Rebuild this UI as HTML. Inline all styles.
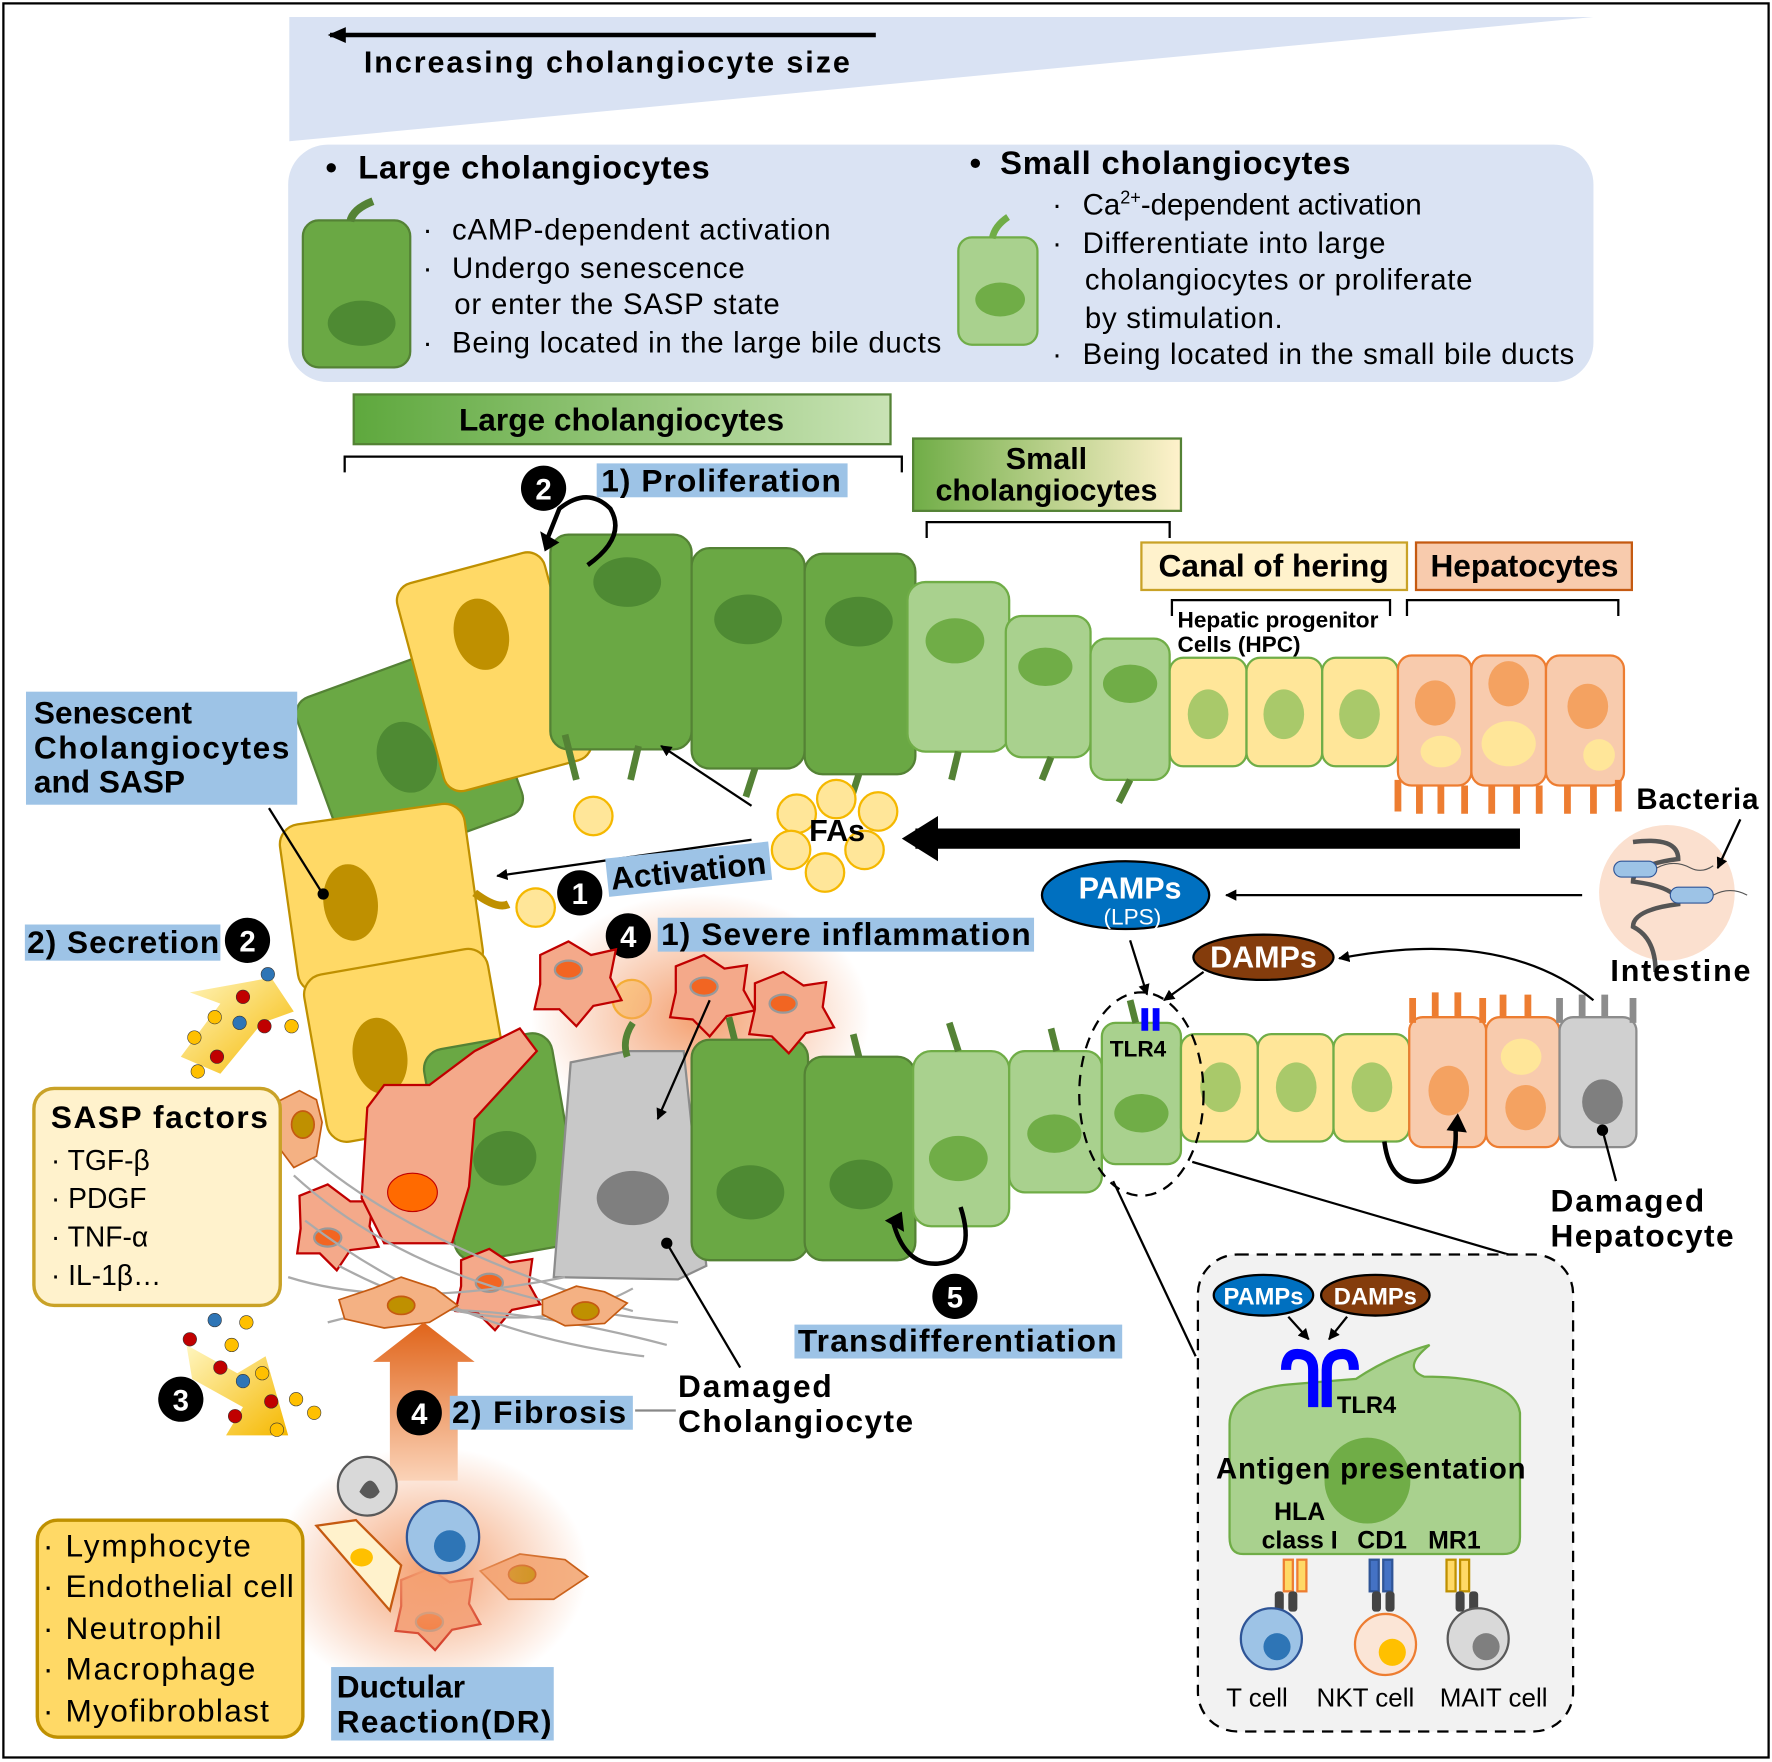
<!DOCTYPE html>
<html><head><meta charset="utf-8"><style>
html,body{margin:0;padding:0;background:#fff}
svg{display:block}
text{font-family:"Liberation Sans",Arial,sans-serif}
.b{font-weight:bold}
</style></head><body>
<svg width="1772" height="1762" viewBox="0 0 1568 1559" preserveAspectRatio="none" xmlns="http://www.w3.org/2000/svg">
<defs>
<linearGradient id="gL" x1="0" x2="1"><stop offset="0" stop-color="#5ea83d"/><stop offset="1" stop-color="#c9e3b5"/></linearGradient>
<linearGradient id="gS" x1="0" x2="1"><stop offset="0" stop-color="#70ad47"/><stop offset="1" stop-color="#fff2cc"/></linearGradient>
<radialGradient id="rg"><stop offset="0" stop-color="#f4a070"/><stop offset="1" stop-color="#f4a070" stop-opacity="0"/></radialGradient>
<linearGradient id="ya" x1="0" x2="1" y1="0" y2="1"><stop offset="0" stop-color="#fff6c0"/><stop offset="1" stop-color="#f5b800"/></linearGradient>
<linearGradient id="oa" x1="0" x2="0" y1="1" y2="0"><stop offset="0" stop-color="#fbd3b8"/><stop offset="1" stop-color="#e0641a"/></linearGradient>
<marker id="ah" markerWidth="10" markerHeight="10" refX="9" refY="5" orient="auto" markerUnits="userSpaceOnUse"><path d="M0,0 L10,5 L0,10 z" fill="#000"/></marker>
<marker id="ah2" markerWidth="16" markerHeight="14" refX="14" refY="7" orient="auto" markerUnits="userSpaceOnUse"><path d="M0,0 L16,7 L0,14 z" fill="#000"/></marker>
</defs>
<rect x="3" y="3" width="1562" height="1552" fill="#fff" stroke="#000" stroke-width="2"/>
<polygon points="256,15 1410,15 256,125" fill="#d9e2f3"/>
<line x1="775" y1="31" x2="292" y2="31" stroke="#000" stroke-width="4" marker-end="url(#ah2)"/>
<text x="322" y="64" class="b" font-size="27" textLength="430">Increasing cholangiocyte size</text>
<rect x="255" y="128" width="1155" height="210" rx="35" fill="#dae3f3"/>
<text x="288" y="158" class="b" font-size="29">•</text><text x="317" y="158" class="b" font-size="29" textLength="311">Large cholangiocytes</text>
<text x="858" y="154" class="b" font-size="29">•</text><text x="885" y="154" class="b" font-size="29" textLength="310">Small cholangiocytes</text>
<g font-size="26">
<text x="374" y="212">·</text><text x="400" y="212" textLength="335">cAMP-dependent activation</text>
<text x="374" y="246">·</text><text x="400" y="246" textLength="259">Undergo senescence</text>
<text x="402" y="278" textLength="288">or enter the SASP state</text>
<text x="374" y="312">·</text><text x="400" y="312" textLength="433">Being located in the large bile ducts</text>
<text x="931" y="190">·</text><text x="958" y="190">Ca<tspan font-size="16" dy="-10">2+</tspan><tspan dy="10">-dependent activation</tspan></text>
<text x="931" y="224">·</text><text x="958" y="224" textLength="268">Differentiate into large</text>
<text x="960" y="256" textLength="343">cholangiocytes or proliferate</text>
<text x="960" y="290" textLength="175">by stimulation.</text>
<text x="931" y="322">·</text><text x="958" y="322" textLength="435">Being located in the small bile ducts</text>
</g>
<rect x="268" y="195" width="95" height="130" rx="14" fill="#6aa844" stroke="#548235" stroke-width="2"/>
<path d="M310,196 Q312,185 330,178" stroke="#548235" stroke-width="7" fill="none"/>
<ellipse cx="320" cy="286" rx="30" ry="20" fill="#4e8a33"/>
<rect x="848" y="210" width="70" height="95" rx="12" fill="#a9d18e" stroke="#70ad47" stroke-width="2"/>
<path d="M878,211 Q880,200 892,192" stroke="#70ad47" stroke-width="6" fill="none"/>
<ellipse cx="885" cy="265" rx="22" ry="15" fill="#70ad47"/>
<rect x="313" y="349" width="475" height="44" fill="url(#gL)" stroke="#548235" stroke-width="2"/>
<text x="550" y="381" class="b" font-size="28" text-anchor="middle">Large cholangiocytes</text>
<path d="M305,418 V404 H798 V418" stroke="#000" stroke-width="2" fill="none"/>
<rect x="808" y="388" width="237" height="64" fill="url(#gS)" stroke="#548235" stroke-width="2"/>
<text x="926" y="415" class="b" font-size="27" text-anchor="middle">Small</text>
<text x="926" y="443" class="b" font-size="27" text-anchor="middle">cholangiocytes</text>
<path d="M820,476 V462 H1035 V476" stroke="#000" stroke-width="2" fill="none"/>
<rect x="1010" y="480" width="235" height="42" fill="#fff2cc" stroke="#c9a227" stroke-width="2"/>
<text x="1127" y="510" class="b" font-size="28" text-anchor="middle">Canal of hering</text>
<rect x="1253" y="480" width="191" height="42" fill="#f8cbad" stroke="#c55a11" stroke-width="2"/>
<text x="1349" y="510" class="b" font-size="28" text-anchor="middle">Hepatocytes</text>
<path d="M1037,545 V531 H1230 V545 M1245,545 V531 H1432 V545" stroke="#000" stroke-width="2" fill="none"/>
<text x="1042" y="555" class="b" font-size="20">Hepatic progenitor</text>
<text x="1042" y="577" class="b" font-size="20">Cells (HPC)</text>
<g stroke-width="2">
<g transform="rotate(-20 360 670)"><rect x="280" y="590" width="165" height="160" rx="16" fill="#6aa844" stroke="#548235"/><ellipse cx="360" cy="670" rx="26" ry="32" fill="#4e8a33"/></g>
<g transform="rotate(-15 435 595)"><rect x="370" y="500" width="135" height="190" rx="16" fill="#ffd966" stroke="#bf9000"/><ellipse cx="435" cy="560" rx="24" ry="32" fill="#bf9000"/></g>
<rect x="487" y="473" width="125" height="190" rx="16" fill="#6aa844" stroke="#548235"/><ellipse cx="555" cy="515" rx="30" ry="22" fill="#4e8a33"/>
<rect x="612" y="485" width="100" height="195" rx="16" fill="#6aa844" stroke="#548235"/><ellipse cx="662" cy="548" rx="30" ry="22" fill="#4e8a33"/>
<rect x="712" y="490" width="98" height="195" rx="16" fill="#6aa844" stroke="#548235"/><ellipse cx="760" cy="550" rx="30" ry="22" fill="#4e8a33"/>
<rect x="803" y="515" width="90" height="150" rx="16" fill="#a9d18e" stroke="#70ad47"/><ellipse cx="845" cy="567" rx="26" ry="20" fill="#70ad47"/>
<rect x="890" y="545" width="75" height="125" rx="14" fill="#a9d18e" stroke="#70ad47"/><ellipse cx="925" cy="590" rx="24" ry="17" fill="#70ad47"/>
<rect x="965" y="565" width="70" height="125" rx="14" fill="#a9d18e" stroke="#70ad47"/><ellipse cx="1000" cy="605" rx="24" ry="17" fill="#70ad47"/>
<rect x="1035" y="582" width="68" height="96" rx="12" fill="#ffe699" stroke="#70ad47"/><ellipse cx="1069" cy="632" rx="18" ry="22" fill="#a9c96a"/>
<rect x="1103" y="582" width="67" height="96" rx="12" fill="#ffe699" stroke="#70ad47"/><ellipse cx="1136" cy="632" rx="18" ry="22" fill="#a9c96a"/>
<rect x="1170" y="582" width="67" height="96" rx="12" fill="#ffe699" stroke="#70ad47"/><ellipse cx="1203" cy="632" rx="18" ry="22" fill="#a9c96a"/>
<rect x="1237" y="580" width="65" height="115" rx="12" fill="#f8cbad" stroke="#ed7d31"/><ellipse cx="1270" cy="622" rx="18" ry="20" fill="#f4a261"/><ellipse cx="1275" cy="665" rx="18" ry="14" fill="#ffe699"/>
<rect x="1302" y="580" width="66" height="115" rx="12" fill="#f8cbad" stroke="#ed7d31"/><ellipse cx="1335" cy="605" rx="18" ry="20" fill="#f4a261"/><ellipse cx="1335" cy="658" rx="24" ry="20" fill="#ffe699"/>
<rect x="1368" y="580" width="69" height="115" rx="12" fill="#f8cbad" stroke="#ed7d31"/><ellipse cx="1405" cy="625" rx="18" ry="20" fill="#f4a261"/><ellipse cx="1415" cy="668" rx="14" ry="14" fill="#ffe699"/>
</g>
<path d="M1237,690 v28 M1256,695 v25 M1275,695 v25 M1296,695 v25 M1320,695 v25 M1342,695 v25 M1362,695 v25 M1387,695 v25 M1410,695 v25 M1432,690 v28" stroke="#ed7d31" stroke-width="6"/>
<path d="M565,660 L558,690 M668,680 L660,705 M760,685 L752,710 M848,665 L842,690 M930,670 L922,690 M1000,690 L990,710 M500,650 L510,690" stroke="#548235" stroke-width="6" fill="none"/>
<g stroke-width="2">
<g transform="rotate(-8 335 795)"><rect x="255" y="720" width="165" height="150" rx="18" fill="#ffd966" stroke="#bf9000"/><ellipse cx="310" cy="795" rx="24" ry="34" fill="#bf9000"/></g>
<g transform="rotate(-10 360 925)"><rect x="278" y="850" width="165" height="150" rx="18" fill="#ffd966" stroke="#bf9000"/><ellipse cx="335" cy="930" rx="24" ry="34" fill="#bf9000"/></g>
</g>
<path d="M420,790 Q440,805 450,800" stroke="#bf9000" stroke-width="7" fill="none"/>
<circle cx="525" cy="722" r="17" fill="#ffe699" stroke="#f5b800" stroke-width="2"/>
<circle cx="474" cy="803" r="17" fill="#ffe699" stroke="#f5b800" stroke-width="2"/>
<circle cx="559" cy="884" r="17" fill="#ffe699" stroke="#f5b800" stroke-width="2"/>
<g fill="#ffe699" stroke="#f5b800" stroke-width="2">
<circle cx="705" cy="720" r="17"/><circle cx="740" cy="707" r="17"/><circle cx="777" cy="718" r="17"/>
<circle cx="700" cy="752" r="17"/><circle cx="765" cy="752" r="17"/><circle cx="730" cy="772" r="17"/>
</g>
<text x="716" y="744" class="b" font-size="27">FAs</text>
<line x1="665" y1="713" x2="585" y2="660" stroke="#000" stroke-width="2" marker-end="url(#ah)"/>
<line x1="665" y1="743" x2="440" y2="775" stroke="#000" stroke-width="2" marker-end="url(#ah)"/>
<line x1="1345" y1="742" x2="810" y2="742" stroke="#000" stroke-width="18"/>
<polygon points="798,742 830,722 830,762" fill="#000"/>
<path d="M520,500 Q555,475 540,450 Q520,430 495,450 L485,475" stroke="#000" stroke-width="4" fill="none"/>
<polygon points="478,470 495,480 482,488" fill="#000"/>
<rect x="528" y="410" width="222" height="30" fill="#9dc3e6"/>
<text x="532" y="435" class="b" font-size="28" textLength="212">1) Proliferation</text>
<circle cx="481" cy="432" r="20" fill="#000"/><text x="481" y="442" font-size="26" class="b" fill="#fff" text-anchor="middle">2</text>
<g transform="rotate(-6 610 770)"><rect x="537" y="752" width="145" height="34" fill="#9dc3e6"/><text x="540" y="780" class="b" font-size="28" textLength="138">Activation</text></g>
<circle cx="513" cy="790" r="20" fill="#000"/><text x="513" y="800" font-size="26" class="b" fill="#fff" text-anchor="middle">1</text>
<ellipse cx="620" cy="900" rx="150" ry="110" fill="url(#rg)"/>
<rect x="582" y="812" width="333" height="30" fill="#9dc3e6"/>
<text x="585" y="836" class="b" font-size="28" textLength="327">1) Severe inflammation</text>
<circle cx="556" cy="828" r="20" fill="#000"/><text x="556" y="838" font-size="26" class="b" fill="#fff" text-anchor="middle">4</text>
<g stroke-width="2">
<g transform="rotate(-10 445 1015)"><rect x="388" y="920" width="115" height="190" rx="18" fill="#6aa844" stroke="#548235"/><ellipse cx="445" cy="1025" rx="28" ry="24" fill="#4e8a33"/></g>
<polygon points="505,940 555,930 605,930 625,1120 600,1132 490,1130" fill="#c8c8c8" stroke="#8c8c8c"/>
<ellipse cx="560" cy="1060" rx="32" ry="24" fill="#7f7f7f"/>
<rect x="612" y="920" width="103" height="195" rx="16" fill="#6aa844" stroke="#548235"/><ellipse cx="664" cy="1055" rx="30" ry="24" fill="#4e8a33"/>
<rect x="712" y="935" width="98" height="180" rx="16" fill="#6aa844" stroke="#548235"/><ellipse cx="762" cy="1048" rx="28" ry="22" fill="#4e8a33"/>
<rect x="808" y="930" width="85" height="155" rx="16" fill="#a9d18e" stroke="#70ad47"/><ellipse cx="848" cy="1025" rx="26" ry="20" fill="#70ad47"/>
<rect x="893" y="930" width="82" height="125" rx="14" fill="#a9d18e" stroke="#70ad47"/><ellipse cx="933" cy="1003" rx="24" ry="17" fill="#70ad47"/>
<rect x="975" y="905" width="70" height="125" rx="12" fill="#a9d18e" stroke="#70ad47"/><ellipse cx="1010" cy="985" rx="24" ry="17" fill="#70ad47"/>
<rect x="1045" y="915" width="68" height="95" rx="12" fill="#ffe699" stroke="#70ad47"/><ellipse cx="1080" cy="962" rx="18" ry="22" fill="#a9c96a"/>
<rect x="1113" y="915" width="67" height="95" rx="12" fill="#ffe699" stroke="#70ad47"/><ellipse cx="1147" cy="962" rx="18" ry="22" fill="#a9c96a"/>
<rect x="1180" y="915" width="67" height="95" rx="12" fill="#ffe699" stroke="#70ad47"/><ellipse cx="1214" cy="962" rx="18" ry="22" fill="#a9c96a"/>
<rect x="1247" y="900" width="68" height="115" rx="12" fill="#f8cbad" stroke="#ed7d31"/><ellipse cx="1282" cy="965" rx="18" ry="22" fill="#f4a261"/>
<rect x="1315" y="900" width="65" height="115" rx="12" fill="#f8cbad" stroke="#ed7d31"/><ellipse cx="1346" cy="935" rx="18" ry="16" fill="#ffe699"/><ellipse cx="1350" cy="980" rx="18" ry="20" fill="#f4a261"/>
<rect x="1380" y="900" width="68" height="115" rx="12" fill="#d0d0d0" stroke="#8c8c8c"/><ellipse cx="1418" cy="975" rx="18" ry="20" fill="#7f7f7f"/>
</g>
<path d="M1250,905 v-22 M1270,900 v-22 M1290,900 v-22 M1312,905 v-22 M1330,900 v-20 M1352,900 v-20" stroke="#ed7d31" stroke-width="6"/>
<path d="M1380,905 v-22 M1400,900 v-20 M1420,900 v-20 M1445,905 v-22" stroke="#8c8c8c" stroke-width="6"/>
<path d="M555,935 Q550,920 560,905 M650,920 L645,900 M760,935 L755,915 M848,930 L840,905 M935,930 L930,910 M1005,905 L1000,885" stroke="#548235" stroke-width="6" fill="none"/>
<g fill="#f4a98a" stroke="#c00000" stroke-width="2">
<path d="M478,845 l25,-12 l20,12 l22,-5 l-5,25 l10,20 l-25,5 l-15,18 l-15,-15 l-22,0 l5,-22 z"/>
<path d="M598,855 l25,-10 l18,12 l20,-3 l-3,22 l10,18 l-25,5 l-15,18 l-15,-15 l-20,-2 l5,-22 z"/>
<path d="M668,870 l25,-10 l18,12 l20,-3 l-3,22 l10,18 l-25,5 l-15,18 l-15,-15 l-20,-2 l5,-22 z"/>
<path d="M265,1058 l25,-10 l20,15 l20,0 l-3,22 l8,18 l-25,3 l-12,18 l-15,-15 l-20,0 l3,-22 z"/>
<path d="M408,1115 l25,-10 l18,12 l20,-3 l-3,22 l10,18 l-25,5 l-15,18 l-15,-15 l-20,-2 l5,-22 z"/>
<path d="M355,1398 l25,-10 l18,12 l20,-3 l-3,22 l10,18 l-25,5 l-15,18 l-15,-15 l-20,-2 l5,-22 z"/>
</g>
<g fill="#f26522" stroke="#999" stroke-width="2"><ellipse cx="503" cy="858" rx="12" ry="8"/><ellipse cx="623" cy="873" rx="12" ry="8"/><ellipse cx="693" cy="888" rx="12" ry="8"/><ellipse cx="290" cy="1095" rx="12" ry="8"/><ellipse cx="433" cy="1135" rx="12" ry="8"/><ellipse cx="380" cy="1435" rx="12" ry="8"/></g>
<path d="M325,980 L340,960 L380,960 L420,930 L460,910 L475,930 L420,990 L415,1050 L400,1100 L340,1100 L320,1060 Z" fill="#f4a98a" stroke="#c00000" stroke-width="2"/>
<ellipse cx="365" cy="1055" rx="22" ry="17" fill="#ff6a00" stroke="#c00000"/>
<g stroke="#aaa" stroke-width="2" fill="none">
<path d="M250,1000 Q350,1100 560,1160"/><path d="M260,1040 Q380,1150 600,1170"/><path d="M270,1080 Q400,1180 570,1200"/><path d="M300,1120 Q450,1200 560,1140"/><path d="M255,1130 Q350,1160 500,1130"/><path d="M290,1170 Q400,1140 590,1190"/>
</g>
<g fill="#f4b183" stroke="#c55a11" stroke-width="1.5">
<path d="M245,975 l20,-10 l15,8 l5,20 l-5,30 l-20,10 l-15,-20 z"/><ellipse cx="268" cy="995" rx="10" ry="12" fill="#bf9000"/>
<path d="M300,1150 l30,-10 l25,-10 l30,10 l20,15 l-25,15 l-40,5 l-35,-8 z"/><ellipse cx="355" cy="1155" rx="12" ry="8" fill="#bf9000"/>
<path d="M480,1150 l30,-12 l25,5 l20,10 l-20,18 l-35,2 l-20,-10 z"/><ellipse cx="518" cy="1160" rx="12" ry="8" fill="#bf9000"/>
<path d="M425,1390 l35,-15 l40,5 l20,15 l-30,20 l-40,0 z"/><ellipse cx="462" cy="1393" rx="12" ry="8" fill="#bf9000"/>
</g>
<ellipse cx="380" cy="1390" rx="140" ry="110" fill="url(#rg)"/>
<polygon points="345,1310 345,1205 330,1205 375,1170 420,1205 405,1205 405,1310" fill="url(#oa)"/>
<circle cx="325" cy="1315" r="26" fill="#d9d9d9" stroke="#595959" stroke-width="2"/><path d="M318,1320 q10,-20 18,0 q-8,12 -18,0" fill="#595959"/>
<circle cx="392" cy="1360" r="32" fill="#9dc3e6" stroke="#2f5597" stroke-width="2"/><circle cx="398" cy="1368" r="14" fill="#2e75b6"/>
<path d="M280,1350 L315,1345 L355,1385 L345,1425 Z" fill="#fff2cc" stroke="#c55a11" stroke-width="2"/><ellipse cx="320" cy="1378" rx="10" ry="8" fill="#ffc000"/>
<rect x="23" y="612" width="240" height="100" fill="#9dc3e6"/>
<text x="30" y="640" class="b" font-size="28">Senescent</text>
<text x="30" y="671" class="b" font-size="28" textLength="226">Cholangiocytes</text>
<text x="30" y="701" class="b" font-size="28">and SASP</text>
<line x1="238" y1="715" x2="285" y2="790" stroke="#000" stroke-width="2"/><circle cx="286" cy="791" r="5" fill="#000"/>
<rect x="22" y="818" width="173" height="32" fill="#9dc3e6"/>
<text x="24" y="843" class="b" font-size="28" textLength="170">2) Secretion</text>
<circle cx="219" cy="832" r="20" fill="#000"/><text x="219" y="842" font-size="26" class="b" fill="#fff" text-anchor="middle">2</text>
<polygon points="240,865 260,895 232,905 195,950 160,935 195,888 168,878" fill="url(#ya)"/>
<g stroke="#333" stroke-width="0.5"><circle cx="237" cy="862" r="6" fill="#2e75b6"/><circle cx="215" cy="882" r="6" fill="#c00000"/><circle cx="190" cy="900" r="6" fill="#ffc000"/><circle cx="212" cy="905" r="6" fill="#2e75b6"/><circle cx="234" cy="908" r="6" fill="#c00000"/><circle cx="172" cy="918" r="6" fill="#ffc000"/><circle cx="192" cy="935" r="6" fill="#c00000"/><circle cx="258" cy="908" r="6" fill="#ffc000"/><circle cx="175" cy="948" r="6" fill="#ffc000"/></g>
<rect x="30" y="963" width="218" height="192" rx="18" fill="#fff2cc" stroke="#c9a227" stroke-width="3"/>
<text x="45" y="998" class="b" font-size="28" textLength="192">SASP factors</text>
<g font-size="25"><text x="45" y="1035">· TGF-β</text><text x="45" y="1069">· PDGF</text><text x="45" y="1103">· TNF-α</text><text x="45" y="1137">· IL-1β…</text></g>
<polygon points="165,1190 210,1215 235,1200 255,1270 200,1270 215,1245 170,1220" fill="url(#ya)"/>
<g stroke="#333" stroke-width="0.5"><circle cx="168" cy="1185" r="6" fill="#c00000"/><circle cx="190" cy="1168" r="6" fill="#2e75b6"/><circle cx="218" cy="1170" r="6" fill="#ffc000"/><circle cx="205" cy="1190" r="6" fill="#ffc000"/><circle cx="195" cy="1210" r="6" fill="#c00000"/><circle cx="215" cy="1222" r="6" fill="#2e75b6"/><circle cx="240" cy="1240" r="6" fill="#c00000"/><circle cx="262" cy="1238" r="6" fill="#ffc000"/><circle cx="208" cy="1253" r="6" fill="#c00000"/><circle cx="245" cy="1265" r="6" fill="#ffc000"/><circle cx="278" cy="1250" r="6" fill="#ffc000"/><circle cx="232" cy="1215" r="6" fill="#ffc000"/></g>
<circle cx="160" cy="1238" r="20" fill="#000"/><text x="160" y="1248" font-size="26" class="b" fill="#fff" text-anchor="middle">3</text>
<rect x="33" y="1345" width="235" height="192" rx="18" fill="#ffd966" stroke="#bf9000" stroke-width="3"/>
<g font-size="28"><text x="38" y="1377">·</text><text x="58" y="1377" textLength="164">Lymphocyte</text><text x="38" y="1413">·</text><text x="58" y="1413" textLength="202">Endothelial cell</text><text x="38" y="1450">·</text><text x="58" y="1450" textLength="138">Neutrophil</text><text x="38" y="1486">·</text><text x="58" y="1486" textLength="168">Macrophage</text><text x="38" y="1523">·</text><text x="58" y="1523" textLength="180">Myofibroblast</text></g>
<rect x="293" y="1475" width="197" height="65" fill="#9dc3e6"/>
<text x="298" y="1502" class="b" font-size="28">Ductular</text>
<text x="298" y="1533" class="b" font-size="28" textLength="190">Reaction(DR)</text>
<circle cx="371" cy="1250" r="20" fill="#000"/><text x="371" y="1260" font-size="26" class="b" fill="#fff" text-anchor="middle">4</text>
<rect x="398" y="1235" width="162" height="30" fill="#9dc3e6"/>
<text x="400" y="1259" class="b" font-size="28" textLength="154">2) Fibrosis</text>
<line x1="562" y1="1248" x2="598" y2="1248" stroke="#888" stroke-width="2"/>
<line x1="628" y1="885" x2="582" y2="990" stroke="#000" stroke-width="2" marker-end="url(#ah)"/>
<line x1="590" y1="1100" x2="655" y2="1210" stroke="#000" stroke-width="2"/><circle cx="590" cy="1100" r="5" fill="#000"/>
<text x="600" y="1236" class="b" font-size="28" textLength="136">Damaged</text>
<text x="600" y="1267" class="b" font-size="28" textLength="208">Cholangiocyte</text>
<path d="M850,1068 Q865,1115 830,1118 Q800,1120 790,1080" stroke="#000" stroke-width="4" fill="none"/>
<polygon points="783,1080 798,1072 800,1090" fill="#000"/>
<circle cx="845" cy="1147" r="20" fill="#000"/><text x="845" y="1157" font-size="26" class="b" fill="#fff" text-anchor="middle">5</text>
<rect x="703" y="1172" width="290" height="30" fill="#9dc3e6"/>
<text x="706" y="1196" class="b" font-size="28" textLength="282">Transdifferentiation</text>
<path d="M1225,1010 Q1230,1050 1260,1045 Q1290,1040 1288,1000" stroke="#000" stroke-width="4" fill="none"/>
<polygon points="1280,1000 1290,985 1298,1002" fill="#000"/>
<ellipse cx="996" cy="792" rx="74" ry="30" fill="#0070c0" stroke="#000" stroke-width="2"/>
<text x="1000" y="795" class="b" font-size="27" fill="#fff" text-anchor="middle">PAMPs</text>
<text x="1002" y="818" font-size="20" fill="#fff" text-anchor="middle">(LPS)</text>
<ellipse cx="1118" cy="847" rx="62" ry="20" fill="#843c0c" stroke="#000" stroke-width="2"/>
<text x="1118" y="856" class="b" font-size="27" fill="#fff" text-anchor="middle">DAMPs</text>
<line x1="1400" y1="792" x2="1085" y2="792" stroke="#000" stroke-width="2" marker-end="url(#ah)"/>
<path d="M1410,885 Q1330,820 1185,848" stroke="#000" stroke-width="2" fill="none" marker-end="url(#ah)"/>
<line x1="1000" y1="832" x2="1015" y2="880" stroke="#000" stroke-width="2" marker-end="url(#ah)"/>
<line x1="1065" y1="860" x2="1030" y2="885" stroke="#000" stroke-width="2" marker-end="url(#ah)"/>
<rect x="1010" y="892" width="6" height="20" fill="#0000ff"/><rect x="1020" y="892" width="6" height="20" fill="#0000ff"/>
<text x="982" y="935" class="b" font-size="20">TLR4</text>
<ellipse cx="1010" cy="968" rx="55" ry="90" fill="none" stroke="#000" stroke-width="2" stroke-dasharray="10,7"/>
<circle cx="1475" cy="790" r="60" fill="#fbe0cf"/>
<path d="M1445,745 q40,-5 40,15 q-40,5 -40,20 q40,5 40,20 q-40,5 -40,20 q20,10 20,40" stroke="#555" stroke-width="4" fill="none"/>
<rect x="1428" y="762" width="38" height="14" rx="7" fill="#9dc3e6" stroke="#2f5597"/>
<rect x="1478" y="785" width="38" height="14" rx="7" fill="#9dc3e6" stroke="#2f5597"/>
<path d="M1466,768 q15,-8 30,0 q10,5 20,-2 M1516,792 q15,-8 30,0" stroke="#555" fill="none"/>
<text x="1448" y="716" class="b" font-size="26" textLength="108">Bacteria</text>
<line x1="1540" y1="725" x2="1520" y2="768" stroke="#000" stroke-width="2" marker-end="url(#ah)"/>
<text x="1425" y="868" class="b" font-size="27" textLength="124">Intestine</text>
<line x1="1418" y1="1000" x2="1430" y2="1045" stroke="#000" stroke-width="2"/><circle cx="1418" cy="1000" r="5" fill="#000"/>
<text x="1372" y="1072" class="b" font-size="28" textLength="136">Damaged</text>
<text x="1372" y="1103" class="b" font-size="28" textLength="162">Hepatocyte</text>
<line x1="985" y1="1045" x2="1058" y2="1200" stroke="#000" stroke-width="2"/>
<line x1="1055" y1="1028" x2="1335" y2="1110" stroke="#000" stroke-width="2"/>
<rect x="1060" y="1110" width="332" height="422" rx="35" fill="#f2f2f2" stroke="#000" stroke-width="2" stroke-dasharray="10,7"/>
<path d="M1088,1260 Q1088,1230 1140,1225 L1200,1220 Q1230,1200 1265,1190 Q1240,1210 1260,1218 Q1340,1218 1345,1250 L1345,1360 Q1345,1375 1330,1375 L1100,1375 Q1088,1375 1088,1360 Z" fill="#a9d18e" stroke="#70ad47" stroke-width="2"/>
<circle cx="1210" cy="1310" r="38" fill="#70ad47"/>
<path d="M1162,1245 V1212 Q1162,1198 1148,1198 Q1138,1198 1138,1212 M1174,1245 V1212 Q1174,1198 1188,1198 Q1198,1198 1198,1212" stroke="#0000ff" stroke-width="9" fill="none"/>
<text x="1183" y="1250" class="b" font-size="21">TLR4</text>
<ellipse cx="1118" cy="1146" rx="44" ry="18" fill="#0070c0" stroke="#000" stroke-width="2"/>
<text x="1118" y="1154" class="b" font-size="21" fill="#fff" text-anchor="middle">PAMPs</text>
<ellipse cx="1217" cy="1146" rx="48" ry="18" fill="#843c0c" stroke="#000" stroke-width="2"/>
<text x="1217" y="1154" class="b" font-size="21" fill="#fff" text-anchor="middle">DAMPs</text>
<line x1="1140" y1="1165" x2="1158" y2="1185" stroke="#000" stroke-width="2" marker-end="url(#ah)"/>
<line x1="1192" y1="1165" x2="1176" y2="1185" stroke="#000" stroke-width="2" marker-end="url(#ah)"/>
<text x="1213" y="1308" class="b" font-size="26" text-anchor="middle" textLength="274">Antigen presentation</text>
<text x="1150" y="1345" class="b" font-size="22" text-anchor="middle">HLA</text>
<text x="1150" y="1370" class="b" font-size="22" text-anchor="middle">class I</text>
<text x="1223" y="1370" class="b" font-size="22" text-anchor="middle">CD1</text>
<text x="1287" y="1370" class="b" font-size="22" text-anchor="middle">MR1</text>
<g stroke-width="2">
<rect x="1136" y="1380" width="8" height="28" fill="#ffd966" stroke="#ed7d31"/><rect x="1148" y="1380" width="8" height="28" fill="#ffd966" stroke="#ed7d31"/>
<rect x="1212" y="1380" width="8" height="28" fill="#4472c4" stroke="#2f5597"/><rect x="1224" y="1380" width="8" height="28" fill="#4472c4" stroke="#2f5597"/>
<rect x="1280" y="1380" width="8" height="28" fill="#ffd966" stroke="#bf9000"/><rect x="1292" y="1380" width="8" height="28" fill="#ffd966" stroke="#bf9000"/>
<rect x="1128" y="1408" width="8" height="18" rx="3" fill="#444"/><rect x="1140" y="1408" width="8" height="18" rx="3" fill="#444"/>
<rect x="1214" y="1408" width="8" height="18" rx="3" fill="#444"/><rect x="1226" y="1408" width="8" height="18" rx="3" fill="#444"/>
<rect x="1288" y="1408" width="8" height="18" rx="3" fill="#444"/><rect x="1300" y="1408" width="8" height="18" rx="3" fill="#444"/>
</g>
<circle cx="1125" cy="1450" r="27" fill="#9dc3e6" stroke="#2f5597" stroke-width="2"/><circle cx="1130" cy="1457" r="12" fill="#2e75b6"/>
<circle cx="1226" cy="1455" r="27" fill="#fbe5d6" stroke="#ed7d31" stroke-width="2"/><circle cx="1232" cy="1462" r="12" fill="#ffc000"/>
<circle cx="1308" cy="1450" r="27" fill="#d9d9d9" stroke="#595959" stroke-width="2"/><circle cx="1315" cy="1457" r="12" fill="#7f7f7f"/>
<g font-size="23"><text x="1085" y="1510">T cell</text><text x="1165" y="1510">NKT cell</text><text x="1274" y="1510">MAIT cell</text></g>
</svg>
</body></html>
